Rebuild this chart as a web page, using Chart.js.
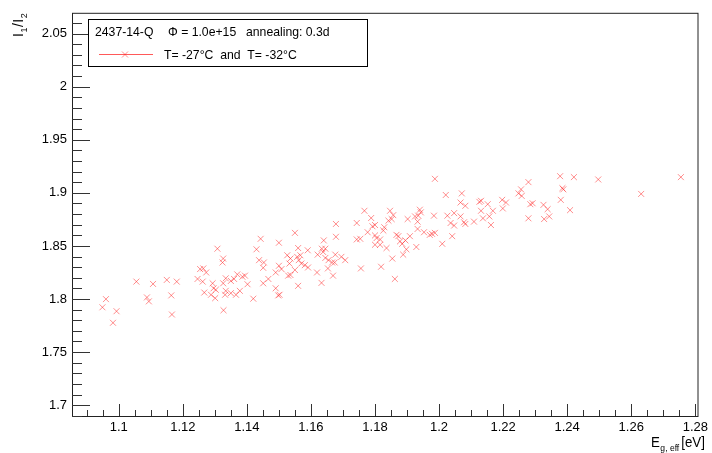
<!DOCTYPE html>
<html>
<head>
<meta charset="utf-8">
<script src="https://cdn.jsdelivr.net/npm/chart.js@4.4.0/dist/chart.umd.min.js"></script>
<style>
    body { margin: 0; background: #fff; }
</style>
</head>
<body>
<canvas id="myChart" width="712" height="453"></canvas>
<script>
// data
const eGap = [
    1.1308, 1.1326, 1.1324, 1.1254, 1.1264, 1.1273, 1.1246, 1.1262, 1.1055, 1.1107,
    1.1150, 1.1181, 1.1293, 1.1334, 1.1326, 1.1296, 1.1303, 1.1267, 1.1288, 1.1334,
    1.1332, 1.1301, 1.1164, 1.1088, 1.1094, 1.0960, 1.0993, 1.0949, 1.0982, 1.1166,
    1.1327,
    1.1767, 1.1788, 1.1743, 1.1800, 1.1792, 1.1777, 1.1678, 1.1550, 1.1443, 1.1500,
    1.1430, 1.1678, 1.1640, 1.1743, 1.1754, 1.1800, 1.1805, 1.1800, 1.1560, 1.1590,
    1.1634, 1.1645, 1.1621, 1.1638, 1.1676, 1.1695, 1.1707, 1.1526, 1.1536, 1.1557,
    1.1567, 1.1562, 1.1533, 1.1570, 1.1581, 1.1591, 1.1645, 1.1655, 1.1666, 1.1674,
    1.1653, 1.1438, 1.1453, 1.1451, 1.1500, 1.1508, 1.1490, 1.1536, 1.1550, 1.1529,
    1.1619, 1.1669, 1.1756, 1.1467, 1.1451, 1.1633, 1.1560, 1.1370, 1.1386, 1.1394,
    1.1350, 1.1360, 1.1402, 1.1378, 1.1366, 1.1350, 1.1490, 1.1498, 1.1502, 1.1420,
    1.1987, 1.2279, 1.2021, 1.2071, 1.2248, 1.2256, 1.2258, 1.2067, 1.2082, 1.2126,
    1.2131, 1.2152, 1.2197, 1.2209, 1.2199, 1.2285, 1.2292, 1.2279, 1.2131, 1.2168,
    1.2157, 1.2137, 1.2162, 1.2109, 1.2082, 1.2078, 1.2067, 1.2047, 1.2026, 1.2036,
    1.2047, 1.1984, 1.2041, 1.2010, 1.1940, 1.1943, 1.1935, 1.1925, 1.1933, 1.1902,
    1.1847, 1.1857, 1.1852, 1.1842, 1.1829, 1.1826, 1.1933, 1.1909, 1.1953, 1.1971,
    1.1978, 1.1987, 1.1867, 1.1873, 1.1878, 1.1885, 1.1895, 1.1898, 1.1888, 1.1929,
    1.1816, 1.1816, 1.1836, 1.1854, 1.1819, 1.1862,
    1.2378, 1.2421, 1.2497, 1.2755, 1.2388, 1.2385, 1.2631, 1.2380, 1.2326, 1.2339,
    1.2409, 1.2328, 1.2344
];

const ratio = [
    1.8474, 1.8381, 1.8344, 1.8282, 1.8288, 1.8250, 1.8189, 1.8164, 1.8164, 1.8142,
    1.8180, 1.8164, 1.8148, 1.8195, 1.8148, 1.8101, 1.8087, 1.8061, 1.8040, 1.8077,
    1.8040, 1.8008, 1.8034, 1.8015, 1.7978, 1.7999, 1.7885, 1.7922, 1.7776, 1.7854,
    1.7894,
    1.8831, 1.8763, 1.8716, 1.8697, 1.8685, 1.8629, 1.8707, 1.8623, 1.8567, 1.8530,
    1.8468, 1.8586, 1.8552, 1.8561, 1.8567, 1.8599, 1.8574, 1.8511, 1.8480, 1.8459,
    1.8474, 1.8474, 1.8418, 1.8443, 1.8418, 1.8397, 1.8366, 1.8412, 1.8381, 1.8397,
    1.8412, 1.8366, 1.8334, 1.8334, 1.8319, 1.8297, 1.8387, 1.8366, 1.8344, 1.8344,
    1.8288, 1.8366, 1.8344, 1.8294, 1.8313, 1.8282, 1.8250, 1.8226, 1.8273, 1.8220,
    1.8250, 1.8220, 1.8288, 1.8189, 1.8148, 1.8152, 1.8124, 1.8232, 1.8210, 1.8220,
    1.8170, 1.8189, 1.8139, 1.8077, 1.8040, 1.8055, 1.8101, 1.8034, 1.8040, 1.8003,
    1.9132, 1.9101, 1.8980, 1.8995, 1.8995, 1.9033, 1.8971, 1.8909, 1.8878, 1.8915,
    1.8925, 1.8893, 1.8934, 1.8909, 1.8853, 1.8893, 1.8902, 1.8760, 1.8831, 1.8831,
    1.8778, 1.8760, 1.8697, 1.8729, 1.8707, 1.8723, 1.8778, 1.8809, 1.8785, 1.8716,
    1.8692, 1.8785, 1.8592, 1.8520, 1.8841, 1.8816, 1.8785, 1.8778, 1.8729, 1.8753,
    1.8831, 1.8790, 1.8753, 1.8738, 1.8676, 1.8645, 1.8660, 1.8592, 1.8629, 1.8604,
    1.8614, 1.8623, 1.8604, 1.8592, 1.8543, 1.8520, 1.8552, 1.8468, 1.8418, 1.8490,
    1.8561, 1.8511, 1.8480, 1.8381, 1.8304, 1.8189,
    1.9157, 1.9148, 1.9126, 1.9148, 1.9033, 1.9044, 1.8990, 1.8934, 1.8887, 1.8846,
    1.8837, 1.8753, 1.8778
];

const xTickVals = [1.1, 1.12, 1.14, 1.16, 1.18, 1.2, 1.22, 1.24, 1.26, 1.28];
const yTickVals = [1.7, 1.75, 1.8, 1.85, 1.9, 1.95, 2, 2.05];
const headerParts = ['2437-14-Q', 'Φ = 1.0e+15', 'annealing: 0.3d'];
const seriesLabel = 'T= -27°C  and  T= -32°C';

const FONT = '"Liberation Sans", Arial, Helvetica, sans-serif';
const RED = 'rgba(255, 30, 30, 0.5)';

// draw a string with a horizontal squeeze
const squeezeText = (ctx, txt, x, y, sx) => {
    ctx.save();
    ctx.translate(x, y);
    ctx.scale(sx, 1);
    ctx.fillText(txt, 0, 0);
    ctx.restore();
    return ctx.measureText(txt).width * sx;
};

// ROOT-like frame, inner ticks, titles and legend box
const rootStyle = {
    id: 'rootStyle',
    afterDraw(chart) {
        const { ctx, chartArea: a, scales: { x, y } } = chart;
        ctx.save();

        // frame
        ctx.strokeStyle = '#222';
        ctx.lineWidth = 1;
        ctx.strokeRect(a.left + 0.5, a.top + 0.5, a.right - a.left - 1, a.bottom - a.top);

        // x ticks
        ctx.strokeStyle = '#333';
        ctx.beginPath();
        for (let v = 1.09; v <= x.max + 1e-9; v += 0.005) {
            const px = Math.round(x.getPixelForValue(v)) + 0.5;
            const major = Math.abs(v / 0.02 - Math.round(v / 0.02)) < 1e-6;
            ctx.moveTo(px, a.bottom);
            ctx.lineTo(px, a.bottom - (major ? 12 : 6));
        }
        // y ticks
        for (let v = 1.69; v <= y.max + 1e-9; v += 0.01) {
            const py = Math.round(y.getPixelForValue(v)) + 0.5;
            const major = Math.abs(v / 0.05 - Math.round(v / 0.05)) < 1e-6;
            ctx.moveTo(a.left, py);
            ctx.lineTo(a.left + (major ? 18 : 10), py);
        }
        ctx.stroke();

        // x title: E_{g, eff} [eV]
        ctx.fillStyle = '#000';
        ctx.textBaseline = 'alphabetic';
        ctx.textAlign = 'left';
        let tx = 651;
        ctx.font = '14px ' + FONT;
        tx += squeezeText(ctx, 'E', tx, 447, 0.95);
        ctx.font = '9px ' + FONT;
        tx += squeezeText(ctx, 'g, eff', tx + 0.5, 451, 0.95) + 2.5;
        ctx.font = '14px ' + FONT;
        squeezeText(ctx, '[eV]', tx, 447, 0.95);

        // y title: I_1/I_2, rotated, ending at the top of the frame
        ctx.save();
        ctx.translate(23, a.top);
        ctx.rotate(-Math.PI / 2);
        const pieces = [['I', 14, 0], ['1', 9, 4], ['/', 14, 0], ['I', 14, 0], ['2', 9, 4]];
        let total = 0;
        pieces.forEach(p => { ctx.font = p[1] + 'px ' + FONT; total += ctx.measureText(p[0]).width + 0.5; });
        let ty = -total;
        pieces.forEach(p => {
            ctx.font = p[1] + 'px ' + FONT;
            ctx.fillText(p[0], ty, p[2]);
            ty += ctx.measureText(p[0]).width + 0.5;
        });
        ctx.restore();

        // legend box
        ctx.fillStyle = '#fff';
        ctx.fillRect(88, 19, 279, 47);
        ctx.strokeStyle = '#000';
        ctx.strokeRect(88.5, 19.5, 279, 47);

        ctx.fillStyle = '#000';
        ctx.font = '13px ' + FONT;
        ctx.textBaseline = 'middle';
        squeezeText(ctx, headerParts[0], 95, 32, 0.94);
        squeezeText(ctx, headerParts[1], 168, 32, 0.94);
        squeezeText(ctx, headerParts[2], 246, 32, 0.94);
        squeezeText(ctx, chart.data.datasets[0].label, 164, 55, 0.94);

        // legend sample: line with the marker
        ctx.strokeStyle = 'rgba(255, 60, 60, 0.85)';
        ctx.beginPath();
        ctx.moveTo(99, 54.5);
        ctx.lineTo(153, 54.5);
        ctx.stroke();
        ctx.strokeStyle = RED;
        ctx.beginPath();
        ctx.moveTo(122, 51.5); ctx.lineTo(128, 57.5);
        ctx.moveTo(128, 51.5); ctx.lineTo(122, 57.5);
        ctx.stroke();

        ctx.restore();
    }
};

const points = eGap.map((e, i) => ({ x: e, y: ratio[i] }));

const tickFont = { family: FONT, size: 13 };

new Chart(document.getElementById('myChart'), {
    type: 'scatter',
    data: {
        datasets: [{
            label: seriesLabel,
            data: points,
            pointStyle: 'crossRot',
            pointRadius: 4.2,
            borderColor: RED,
            backgroundColor: RED,
            borderWidth: 1,
            showLine: false
        }]
    },
    options: {
        responsive: false,
        animation: false,
        layout: { padding: { top: 8, right: 10, left: 0, bottom: 0 } },
        plugins: {
            legend: { display: false },
            tooltip: { enabled: false }
        },
        scales: {
            x: {
                type: 'linear',
                min: 1.0854,
                max: 1.281,
                afterBuildTicks: s => { s.ticks = xTickVals.map(v => ({ value: v })); },
                afterFit: s => { s.height = 37; },
                grid: { display: false, drawTicks: false },
                border: { display: false },
                ticks: {
                    padding: 4,
                    color: '#000',
                    font: tickFont,
                    maxRotation: 0,
                    autoSkip: false,
                    callback: v => String(+v.toFixed(2))
                }
            },
            y: {
                type: 'linear',
                min: 1.6898,
                max: 2.0696,
                afterBuildTicks: s => { s.ticks = yTickVals.map(v => ({ value: v })); },
                afterFit: s => { s.width = 72; },
                grid: { display: false, drawTicks: false },
                border: { display: false },
                ticks: {
                    padding: 5,
                    color: '#000',
                    font: tickFont,
                    autoSkip: false,
                    callback: v => String(+v.toFixed(2))
                }
            }
        }
    },
    plugins: [rootStyle]
});
</script>
</body>
</html>
